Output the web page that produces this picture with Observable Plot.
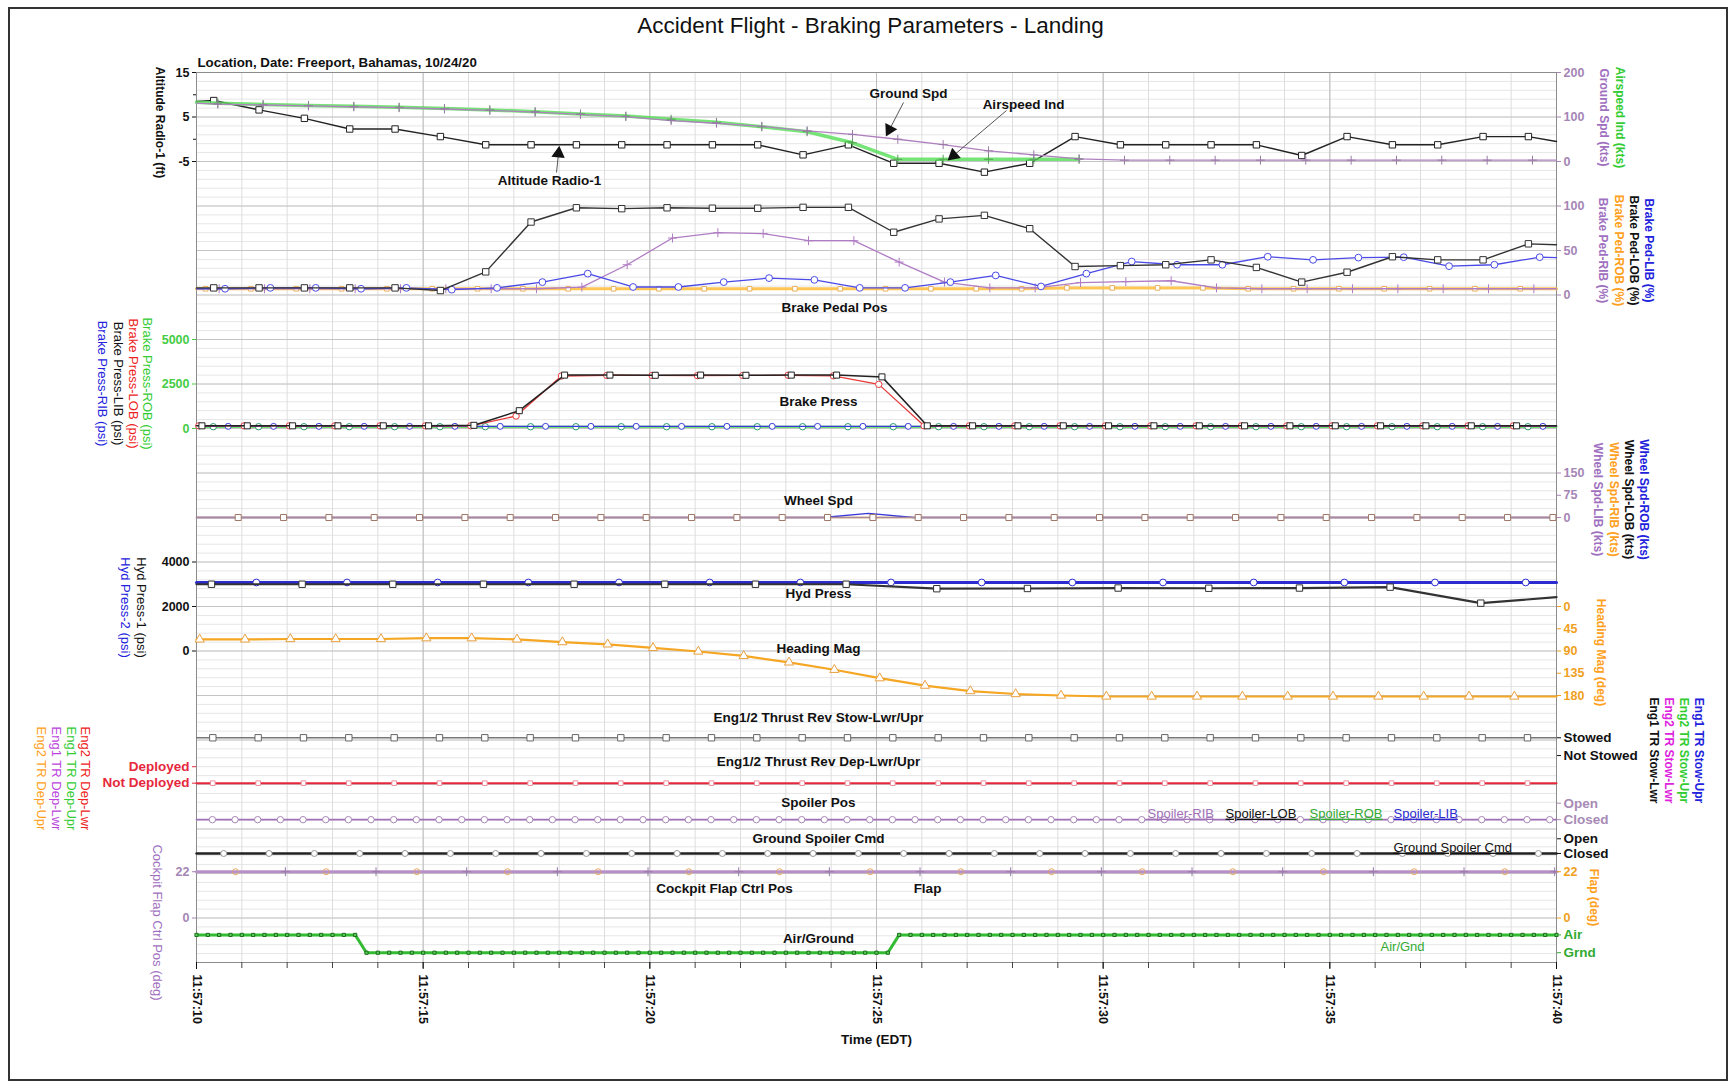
<!DOCTYPE html>
<html><head><meta charset="utf-8">
<script src="https://cdn.jsdelivr.net/npm/d3@7"></script>
<script src="https://cdn.jsdelivr.net/npm/@observablehq/plot@0.6"></script>
<style>
html,body{margin:0;padding:0;background:#fff;}
#wrap{position:relative;width:1730px;height:1083px;font-family:"Liberation Sans",Arial,sans-serif;color:#111;overflow:hidden;}
#wrap svg{position:absolute;left:0;top:0;}
#border{position:absolute;left:8px;top:7px;width:1716px;height:1070px;border:2px solid #333;}
</style></head><body><div id="wrap"><div id="border"></div></div>
<script>
// ================= DATA =================
const timePrefix = "11:57:";
const timeTicks = [10, 15, 20, 25, 30, 35, 40];

// Altitude Radio-1 (ft), 1 Hz
const altT0 = 10.38;
const altRadio = [8.7,6.6,4.7,2.3,2.3,0.6,-1.25,-1.25,-1.25,-1.25,-1.25,-1.25,-1.25,-3.5,-1.25,-5.4,-5.4,-7.4,-5.4,0.6,-1.25,-1.25,-1.25,-1.25,-3.65,0.6,-1.25,-1.25,0.6,0.6];
const altEdge = [8.5, -0.5];

// Ground Spd / Airspeed Ind (kts), 1 Hz
const spdT0 = 10.47;
const groundSpd = [129,127,125,123,121,118,115,111,106,101,92,86,79,69,61,50,38,24,15,6,3,3,3,3,3,3,3,3,3,3];
const groundSpdEdge = [131, 3];
const airspeedInd = [131,128,126,124,122,119,116,112,107,102,95,88,78,67,42,5,5,5,5,5];
const airspeedEdge = [133, null];

// Brake pedal (%)
const pedLobT0 = 10.38;
const pedLOB = [8,8,8,8,8,5,26,82,98,97,98,97.5,97.5,98.5,98.5,70.5,85.5,89.5,74.5,32,33,34,39.5,31,14.5,25.6,43,39.5,39.5,57.5];
const pedLOBEdge = [8, 56.5];
const pedLibT0 = 10.63;
const pedLIB = [7,8,8,7,8,6,8,14.5,24,9,9,14.5,19,17,8,8,14.5,22,9.6,24,37.6,34,34,43,39.5,42,42.5,32.4,34,42.5];
const pedLIBEdge = [7, 42];
const pedRobT0 = 10.2;
const pedROB = [7,7,7,7,7,7,7,7,7,7,7,7,7,7,7,7,7,7,7,8,8,8,8,7,7,7,7,7,7,7];
const pedROBEdge = [7, 7];
const pedRibT0 = 10.5;
const pedRIB = [7,7,7,7,7,7,7,7,8.8,34,64,70,69,61,61,37,14.5,8,8,14,15,16,8,7,7,7,7,7,7,7];
const pedRIBEdge = [7, 7];

// Brake pressure (psi)
const prLobT0 = 10.05;
const prLOB = [150,150,150,150,150,150,150,700,2950,2980,2980,2970,2980,2990,2960,2480,150,150,150,150,150,150,150,150,150,150,150,150,150,150];
const prLibT0 = 10.12;
const prLIB = [150,150,150,150,150,150,180,1000,3000,3000,2990,3000,2990,3000,3000,2900,150,150,150,150,150,150,150,150,150,150,150,150,150,150];
const prRobT0 = 10.37;
const prROB = [100,100,100,100,100,100,100,100,100,100,100,100,100,100,100,100,100,100,100,100,100,100,100,100,100,100,100,100,100,100];
const prRibT0 = 10.7;
const prRIB = [120,120,120,120,120,120,120,120,120,120,120,120,120,120,120,120,120,120,120,120,120,120,120,120,120,120,120,120,120,120];
const prEdge = [150, 150];

// Wheel speed (kts)
const whT0 = 10.92;
const whROB = [0,0,0,0,0,0,0,0,0,0,0,0,0,0,14,0,0,0,0,0,0,0,0,0,0,0,0,0,0,0];
const whLOB = [0,0,0,0,0,0,0,0,0,0,0,0,0,0,0,0,0,0,0,0,0,0,0,0,0,0,0,0,0,0];
const whRIB = [0,0,0,0,0,0,0,0,0,0,0,0,0,0,0,0,0,0,0,0,0,0,0,0,0,0,0,0,0,0];
const whLIB = [0,0,0,0,0,0,0,0,0,0,0,0,0,0,0,0,0,0,0,0,0,0,0,0,0,0,0,0,0,0];

// Hydraulic pressure (psi), 0.5 Hz
const hyd1T0 = 10.33;
const hyd1 = [3000,3000,3000,3000,3000,3000,3000,3000,2800,2810,2830,2820,2830,2870,2150];
const hyd1Edge = [3000, 2420];
const hyd2T0 = 11.32;
const hyd2 = [3080,3080,3080,3080,3080,3080,3080,3080,3080,3080,3080,3080,3080,3080,3080];
const hyd2Edge = [3080, 3080];

// Heading Mag (deg)
const hdgT0 = 10.07;
const heading = [66.6,66.6,65.7,65.7,65.7,64.1,64.1,66.6,72,76.5,83.7,91,100,113,128,145,160,171,177,180,182,182,182,182,182,182,182,182,182,182];
const headingEdge = [66.6, 182];

// Discretes
const stowT0 = 10.36;
const trStow = [1,1,1,1,1,1,1,1,1,1,1,1,1,1,1,1,1,1,1,1,1,1,1,1,1,1,1,1,1,1];
const depT0 = 10.36;
const trDep = [0,0,0,0,0,0,0,0,0,0,0,0,0,0,0,0,0,0,0,0,0,0,0,0,0,0,0,0,0,0];
const splT0 = 10.35;
const spoilerPos = [0,0,0,0,0,0,0,0,0,0,0,0,0,0,0,0,0,0,0,0,0,0,0,0,0,0,0,0,0,0,0,0,0,0,0,0,0,0,0,0,0,0,0,0,0,0,0,0,0,0,0,0,0,0,0,0,0,0,0,0];
const gscT0 = 10.6;
const gndSplCmd = [0,0,0,0,0,0,0,0,0,0,0,0,0,0,0,0,0,0,0,0,0,0,0,0,0,0,0,0,0,0];
const flapT0 = 10.86;
const flap = [22,22,22,22,22,22,22,22,22,22,22,22,22,22,22];
const cfcT0 = 11.96;
const cockpitFlap = [22,22,22,22,22,22,22,22,22,22,22,22,22,22,22];
// Air(1) / Ground(0), 4 Hz from 11:57:10, one group of four samples per second
const agT0 = 10;
const airGnd = ("1111 1111 1111 1110 " +                                   // 10..13 s
  "0000 0000 0000 0000 0000 0000 0000 0000 0000 0000 0000 " +               // 14..24 s
  "0011 " +                                                                  // 25 s
  "1111 1111 1111 1111 1111 1111 1111 1111 1111 1111 1111 1111 1111 1111 " + // 26..39 s
  "1").replace(/ /g, "").split("").map(Number);

// Text
const titleText = "Accident Flight - Braking Parameters - Landing";
const locationText = "Location, Date: Freeport, Bahamas, 10/24/20";
const timeLabel = "Time (EDT)";

// ================= LAYOUT =================
const W = 1730, H = 1083, ML = 196, MR = 174, MT = 72, MB = 121, ND = 20;
const FONT = "Liberation Sans, Arial, sans-serif";
const wrap = document.getElementById("wrap");

function dom(a, da, b, db) { const s = (b - a) / (db - da); return [a + (ND - da) * s, a - da * s]; }
function layer(ydom, marks) {
  const svg = Plot.plot({
    width: W, height: H, marginLeft: ML, marginRight: MR, marginTop: MT, marginBottom: MB,
    x: {domain: [10, 40], axis: null}, y: {domain: ydom, axis: null, label: null},
    style: {background: "transparent", fontFamily: FONT, overflow: "visible"},
    marks
  });
  wrap.appendChild(svg);
  return svg;
}
function S(t0, dt, vals, edges, o) {
  const pts = vals.map((v, i) => ({t: t0 + i * dt, v}));
  const line = pts.slice();
  if (edges && edges[0] != null) line.unshift({t: 10, v: edges[0]});
  if (edges && edges[1] != null) line.push({t: 40, v: edges[1]});
  const m = [Plot.line(line, {x: "t", y: "v", stroke: o.c, strokeWidth: o.w ?? 1.3, strokeOpacity: o.op ?? 1})];
  if (o.sym) m.push(Plot.dot(pts, {x: "t", y: "v", symbol: o.sym, r: o.r ?? 3.2, stroke: o.mc ?? o.c, fill: o.fill ?? "white", strokeWidth: 1}));
  return m;
}
function axY(ticks, anchor, color, fmt, o = {}) {
  return Plot.axisY(ticks, {anchor, label: null, tickSize: o.ts ?? 4, tickPadding: o.tp ?? 3, color,
    fontSize: o.fs ?? 12.5, fontWeight: o.fw ?? "bold", tickFormat: fmt ?? (d => String(d))});
}

const secTicks = d3.range(10, 41);

// Base: grid, frame, time axis
layer([ND, 0], [
  Plot.ruleY(d3.range(0, ND + 0.001, 0.2), {stroke: "#e6e6e6"}),
  Plot.ruleX(secTicks, {stroke: "#dedede"}),
  Plot.ruleY(d3.range(0, ND + 1), {stroke: "#c4c4c4"}),
  Plot.ruleX(timeTicks, {stroke: "#bdbdbd"}),
  Plot.frame({stroke: "#8c8c8c"}),
  Plot.axisX(secTicks, {anchor: "bottom", tickSize: 6, tickFormat: () => "", color: "#444", label: null}),
  Plot.axisX(timeTicks, {anchor: "bottom", tickSize: 7, tickPadding: 5, tickRotate: 90, tickFormat: t => timePrefix + t,
    color: "#111", fontSize: 12.5, fontWeight: "bold", label: null})
]);

// Altitude
layer(dom(15, 0, -5, 2), [
  ...S(altT0, 1, altRadio, altEdge, {c: "#222", w: 1.4, sym: "square", r: 3.6}),
  axY([15, 5, -5], "left", "#111"),
  axY([10, 0], "left", "#111", () => "", {ts: 3})
]);
// Speeds
layer(dom(200, 0, 0, 2), [
  ...S(spdT0, 1, airspeedInd, airspeedEdge, {c: "#55dd55", w: 3.5, op: 0.8, sym: "plus", r: 3, mc: "#55a055"}),
  ...S(spdT0, 1, groundSpd, groundSpdEdge, {c: "#b080c0", w: 1.3, sym: "plus", r: 3, mc: "#9a7aa8"}),
  axY([200, 100, 0], "right", "#a585b5")
]);
// Brake pedal
layer(dom(100, 3, 0, 5), [
  ...S(pedRobT0, 1, pedROB, pedROBEdge, {c: "#ffc040", w: 3, op: 0.9, sym: "square", r: 2.6, mc: "#e8b060"}),
  ...S(pedRibT0, 1, pedRIB, pedRIBEdge, {c: "#b07cc4", w: 1.3, sym: "plus", r: 3}),
  ...S(pedLibT0, 1, pedLIB, pedLIBEdge, {c: "#4a4ae6", w: 1.3, sym: "circle", r: 3.4}),
  ...S(pedLobT0, 1, pedLOB, pedLOBEdge, {c: "#333", w: 1.4, sym: "square", r: 3.6}),
  axY([100, 50, 0], "right", "#a585b5")
]);
// Brake press
layer(dom(5000, 6, 0, 8), [
  ...S(prRobT0, 1, prROB, [100, 100], {c: "#44dd44", w: 2, sym: "circle", r: 3.2, mc: "#2a9a6a"}),
  ...S(prRibT0, 1, prRIB, [120, 120], {c: "#3a3ad8", w: 1.3, sym: "circle", r: 3}),
  ...S(prLobT0, 1, prLOB, prEdge, {c: "#e83a3a", w: 1.3, sym: "circle", r: 3.2}),
  ...S(prLibT0, 1, prLIB, prEdge, {c: "#222", w: 1.5, sym: "square", r: 3.4}),
  axY([5000, 2500, 0], "left", "#44cc44")
]);
// Wheel speed
layer(dom(150, 9, 0, 10), [
  ...S(whT0, 1, whRIB, [0, 0], {c: "#ffb040", w: 1.5}),
  ...S(whT0, 1, whLOB, [0, 0], {c: "#333", w: 1.2}),
  ...S(whT0 - 0.1, 1, whROB, [0, 0], {c: "#3a3ad8", w: 1.3}),
  ...S(whT0, 1, whLIB, [0, 0], {c: "#a88a9a", w: 1.3, sym: "square", r: 3.4, mc: "#a07868"}),
  axY([150, 75, 0], "right", "#a585b5")
]);
// Hydraulic press
layer(dom(4000, 11, 0, 13), [
  ...S(hyd2T0, 2, hyd2, hyd2Edge, {c: "#2b2bd0", w: 3, sym: "circle", r: 3.4}),
  ...S(hyd1T0, 2, hyd1, hyd1Edge, {c: "#333", w: 2.2, sym: "square", r: 3.6}),
  axY([4000, 2000, 0], "left", "#111")
]);
// Heading
layer(dom(0, 12, 180, 14), [
  ...S(hdgT0, 1, heading, headingEdge, {c: "#f5a623", w: 2.2, sym: "triangle", r: 3.4, mc: "#e8a040"}),
  axY([0, 45, 90, 135, 180], "right", "#f0a020")
]);
// Thrust reverser stowed
layer(dom(1, 14.95, 0, 15.35), [
  ...S(stowT0, 1, trStow, [1, 1], {c: "#777", w: 1.4, sym: "square", r: 3.6, mc: "#666"}),
  axY([1, 0], "right", "#111", d => d ? "Stowed" : "Not Stowed", {fs: 13.5})
]);
// Thrust reverser deployed
layer(dom(1, 15.6, 0, 15.97), [
  ...S(depT0, 1, trDep, [0, 0], {c: "#e6283c", w: 2, sym: "square", r: 2.6, mc: "#f090a0"}),
  axY([1, 0], "left", "#e6283c", d => d ? "Deployed" : "Not Deployed", {fs: 13.5})
]);
// Spoiler pos
layer(dom(1, 16.42, 0, 16.79), [
  ...S(splT0, 0.5, spoilerPos, [0, 0], {c: "#a070b8", w: 1.6, sym: "circle", r: 3.2, mc: "#a888b8"}),
  axY([1, 0], "right", "#a78ab5", d => d ? "Open" : "Closed", {fs: 13.5})
]);
// Ground spoiler cmd
layer(dom(1, 17.22, 0, 17.55), [
  ...S(gscT0, 1, gndSplCmd, [0, 0], {c: "#222", w: 2.4, sym: "circle", r: 3, mc: "#999"}),
  axY([1, 0], "right", "#111", d => d ? "Open" : "Closed", {fs: 13.5})
]);
// Flap
layer(dom(22, 17.96, 0, 19), [
  ...S(flapT0, 2, flap, [22, 22], {c: "#b890c8", w: 3, sym: "circle", r: 3, mc: "#e8a860", fill: "none"}),
  ...S(cfcT0, 2, cockpitFlap, [22, 22], {c: "#b890c8", w: 1, sym: "plus", r: 3, mc: "#9a7aa8"}),
  axY([22, 0], "left", "#a585b5"),
  axY([22, 0], "right", "#f0a020")
]);
// Air / Ground
layer(dom(1, 19.38, 0, 19.78), [
  ...S(agT0, 0.25, airGnd, null, {c: "#33bb33", w: 3, sym: "square", r: 1.8, mc: "#1e6e1e", fill: "#5c5"}),
  axY([1, 0], "right", "#33aa33", d => d ? "Air" : "Grnd", {fs: 13.5})
]);

// ================= ANNOTATIONS (pixel layer) =================
const sideLabels = [
  {x: 102, y: 383, text: "Brake Press-RIB (psi)", c: "#2222dd"},
  {x: 118, y: 383, text: "Brake Press-LIB (psi)", c: "#111"},
  {x: 133, y: 383, text: "Brake Press-LOB (psi)", c: "#ee2222"},
  {x: 147, y: 383, text: "Brake Press-ROB (psi)", c: "#33cc33"},
  {x: 141, y: 607, text: "Hyd Press-1 (psi)", c: "#111"},
  {x: 125, y: 607, text: "Hyd Press-2 (psi)", c: "#2222dd"},
  {x: 85, y: 778, text: "Eng2 TR Dep-Lwr", c: "#ee2222"},
  {x: 71, y: 778, text: "Eng1 TR Dep-Upr", c: "#33cc33"},
  {x: 56, y: 778, text: "Eng1 TR Dep-Lwr", c: "#bb44dd"},
  {x: 41, y: 778, text: "Eng2 TR Dep-Upr", c: "#ffa020"},
  {x: 157, y: 922, text: "Cockpit Flap Ctrl Pos (deg)", c: "#a070c0"}
];
const sideLabelsBold = [
  {x: 159, y: 122, text: "Altitude Radio-1 (ft)", c: "#111"},
  {x: 1619, y: 117, text: "Airspeed Ind (kts)", c: "#33cc33"},
  {x: 1603, y: 117, text: "Ground Spd (kts)", c: "#a070c0"},
  {x: 1648, y: 250, text: "Brake Ped-LIB (%)", c: "#2222dd"},
  {x: 1633, y: 250, text: "Brake Ped-LOB (%)", c: "#111"},
  {x: 1618, y: 250, text: "Brake Ped-ROB (%)", c: "#ffa020"},
  {x: 1602, y: 250, text: "Brake Ped-RIB (%)", c: "#a070c0"},
  {x: 1643, y: 499, text: "Wheel Spd-ROB (kts)", c: "#2222dd"},
  {x: 1628, y: 499, text: "Wheel Spd-LOB (kts)", c: "#111"},
  {x: 1613, y: 499, text: "Wheel Spd-RIB (kts)", c: "#ffa020"},
  {x: 1597, y: 499, text: "Wheel Spd-LIB (kts)", c: "#a070c0"},
  {x: 1600, y: 652, text: "Heading Mag (deg)", c: "#ffa020"},
  {x: 1698, y: 750, text: "Eng1 TR Stow-Upr", c: "#2222dd"},
  {x: 1683, y: 750, text: "Eng2 TR Stow-Upr", c: "#33cc33"},
  {x: 1668, y: 750, text: "Eng2 TR Stow-Lwr", c: "#dd22dd"},
  {x: 1653, y: 750, text: "Eng1 TR Stow-Lwr", c: "#111"},
  {x: 1593, y: 897, text: "Flap (deg)", c: "#ffa020"}
];
const panelLabels = [
  {x: 908, y: 93, text: "Ground Spd"},
  {x: 1023, y: 104, text: "Airspeed Ind"},
  {x: 549, y: 180, text: "Altitude Radio-1"},
  {x: 834, y: 307, text: "Brake Pedal Pos"},
  {x: 818, y: 401, text: "Brake Press"},
  {x: 818, y: 500, text: "Wheel Spd"},
  {x: 818, y: 593, text: "Hyd Press"},
  {x: 818, y: 648, text: "Heading Mag"},
  {x: 818, y: 717, text: "Eng1/2 Thrust Rev Stow-Lwr/Upr"},
  {x: 818, y: 761, text: "Eng1/2 Thrust Rev Dep-Lwr/Upr"},
  {x: 818, y: 802, text: "Spoiler Pos"},
  {x: 818, y: 838, text: "Ground Spoiler Cmd"},
  {x: 724, y: 888, text: "Cockpit Flap Ctrl Pos"},
  {x: 927, y: 888, text: "Flap"},
  {x: 818, y: 938, text: "Air/Ground"},
  {x: 876, y: 1039, text: timeLabel}
];
const legendLabels = [
  {x: 1147, y: 813, text: "Spoiler-RIB", c: "#a070b8"},
  {x: 1225, y: 813, text: "Spoiler-LOB", c: "#111"},
  {x: 1309, y: 813, text: "Spoiler-ROB", c: "#33aa33"},
  {x: 1393, y: 813, text: "Spoiler-LIB", c: "#2b2bd0"},
  {x: 1393, y: 847, text: "Ground Spoiler Cmd", c: "#111"}
];
const airGndNote = [{x: 1380, y: 946, text: "Air/Gnd", c: "#33aa33"}];
const arrows = [
  {x1: 903, y1: 102, x2: 889, y2: 129},
  {x1: 1006, y1: 110, x2: 953, y2: 155},
  {x1: 556, y1: 172, x2: 558, y2: 153}
];
const ang = d => Math.atan2(d.y2 - d.y1, d.x2 - d.x1) * 180 / Math.PI + 90;

function pixelLayer(marks) {
  const svg = Plot.plot({
    width: W, height: H, margin: 0,
    x: {domain: [0, W], range: [0, W], axis: null},
    y: {domain: [0, H], range: [0, H], axis: null},
    color: {type: "identity"},
    style: {background: "transparent", fontFamily: FONT, overflow: "visible"},
    marks
  });
  wrap.appendChild(svg);
  return svg;
}

pixelLayer([
  Plot.text([titleText], {x: () => 870, y: () => 25, text: d => d, fontSize: 22.5, fill: "#111"}),
  Plot.text([locationText], {x: () => 197, y: () => 62, text: d => d, fontSize: 13.3, fontWeight: "bold", textAnchor: "start", fill: "#111"}),
  Plot.text(sideLabels, {x: "x", y: "y", text: "text", fill: "c", rotate: 90, fontSize: 13}),
  Plot.text(sideLabelsBold, {x: "x", y: "y", text: "text", fill: "c", rotate: 90, fontSize: 12, fontWeight: "bold"}),
  Plot.text(panelLabels, {x: "x", y: "y", text: "text", fontSize: 13.5, fontWeight: "bold", fill: "#111"}),
  Plot.text(airGndNote, {x: "x", y: "y", text: "text", fill: "c", fontSize: 13, textAnchor: "start"}),
  Plot.link(arrows, {x1: "x1", y1: "y1", x2: "x2", y2: "y2", stroke: "#555", strokeWidth: 1}),
  Plot.dot(arrows, {x: "x2", y: "y2", symbol: "triangle", r: 5, fill: "#111", stroke: "none", rotate: ang})
]);

const legendSvg = pixelLayer([
  Plot.text(legendLabels, {x: "x", y: "y", text: "text", fill: "c", fontSize: 13, textAnchor: "start"})
]);
d3.select(legendSvg).selectAll("text").style("text-decoration", "underline");
</script></body></html>
